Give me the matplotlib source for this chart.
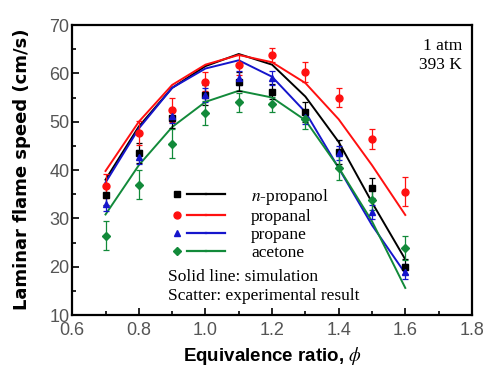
import numpy as np
import matplotlib.pyplot as plt
from matplotlib.lines import Line2D
from matplotlib.legend_handler import HandlerTuple

plt.rcParams['mathtext.fontset'] = 'stix'

# equivalence ratio
phi = [0.7, 0.8, 0.9, 1.0, 1.1, 1.2, 1.3, 1.4, 1.5, 1.6]

# experimental (scatter)
exp_npropanol = [34.8, 43.5, 50.7, 55.5, 58.3, 56.2, 52.0, 43.8, 36.3, 20.0]
exp_propanal = [36.7, 47.6, 52.5, 58.3, 61.7, 63.8, 60.3, 55.0, 46.4, 35.5]
exp_propane = [33.0, 42.7, 51.2, 55.5, 59.0, 59.0, 51.0, 43.5, 31.3, 19.0]
exp_acetone = [26.4, 37.0, 45.4, 51.8, 54.0, 53.6, 50.5, 40.5, 33.8, 23.8]

err_npropanol = [2.0, 2.0, 2.0, 2.0, 2.0, 1.5, 2.0, 2.5, 2.0, 1.5]
err_propanal = [2.5, 2.5, 2.5, 2.0, 2.0, 1.5, 2.0, 2.0, 2.0, 3.0]
err_propane = [1.5, 1.5, 1.5, 1.5, 1.5, 1.5, 1.5, 1.5, 1.5, 1.5]
err_acetone = [3.0, 3.0, 3.0, 2.5, 2.0, 1.5, 2.0, 2.5, 2.0, 2.5]

# simulation (lines)
sim_npropanol = [38.0, 49.0, 57.0, 61.5, 64.0, 61.8, 55.2, 45.8, 33.3, 21.5]
sim_propanal = [39.8, 50.0, 57.6, 61.8, 63.8, 62.3, 58.0, 50.5, 41.0, 30.7]
sim_propane = [37.4, 48.6, 57.0, 61.0, 62.7, 59.3, 52.0, 40.4, 28.6, 18.6]
sim_acetone = [30.8, 41.0, 48.9, 54.1, 56.4, 55.0, 50.3, 40.5, 29.4, 15.6]

labels = ['$\\it{n}$-propanol', 'propanal', 'propane', 'acetone']
colors = ['black', '#ff1010', '#1515cc', '#128a3a']
markers = ['s', 'o', '^', 'D']

exp_data = [exp_npropanol, exp_propanal, exp_propane, exp_acetone]
err_data = [err_npropanol, err_propanal, err_propane, err_acetone]
sim_data = [sim_npropanol, sim_propanal, sim_propane, sim_acetone]

fig = plt.figure(figsize=(4.88, 3.68), dpi=100)
ax = fig.add_axes([0.148, 0.144, 0.819, 0.788])

handles = []
for i in range(4):
    ax.plot(phi, sim_data[i], color=colors[i], lw=1.4, zorder=2)
for i in range(4):
    ms = 5 if markers[i] != 'D' else 4.2
    ax.errorbar(phi, exp_data[i], yerr=err_data[i], fmt=markers[i], color=colors[i],
                ms=ms, capsize=2.5, elinewidth=0.9, capthick=0.9, zorder=3)
    m = Line2D([], [], marker=markers[i], color=colors[i], ls='none', ms=ms)
    l = Line2D([], [], color=colors[i], lw=1.6)
    handles.append((m, l, l))

serif = 'Liberation Serif'
sans = 'Liberation Sans'
ax.legend(handles, labels, handler_map={tuple: HandlerTuple(ndivide=None, pad=0)},
          loc='upper left', bbox_to_anchor=(0.2, 0.497), frameon=False,
          handlelength=3.3, handletextpad=1.5, labelspacing=0.12,
          prop={'family': serif, 'size': 12.5})
ax.text(0.24, 0.13, 'Solid line: simulation', transform=ax.transAxes,
        family=serif, fontsize=12.5, va='center')
ax.text(0.24, 0.065, 'Scatter: experimental result', transform=ax.transAxes,
        family=serif, fontsize=12.5, va='center')
ax.text(0.975, 0.895, '1 atm\n393 K', transform=ax.transAxes, ha='right', va='center',
        family=serif, fontsize=12.5, linespacing=1.3)

ax.set_xlim(0.6, 1.8)
ax.set_ylim(10, 70)
ax.set_xticks([0.6, 0.8, 1.0, 1.2, 1.4, 1.6, 1.8])
ax.set_xticks(np.arange(0.7, 1.8, 0.2), minor=True)
ax.set_yticks(range(10, 71, 10))
ax.set_yticks(range(15, 70, 10), minor=True)
ax.set_xticklabels(['0.6', '0.8', '1.0', '1.2', '1.4', '1.6', '1.8'])
ax.tick_params(which='both', direction='in', width=1.2, labelsize=13, labelcolor='#555555', pad=2)
ax.tick_params(axis='x', which='major', pad=5)
ax.tick_params(which='major', length=5)
ax.tick_params(which='minor', length=3)
for lab in ax.get_xticklabels() + ax.get_yticklabels():
    lab.set_family(sans)
for s in ax.spines.values():
    s.set_linewidth(1.6)
ax.set_xlabel('Equivalence ratio, $\\phi$', fontsize=13.5, fontweight='bold', family=sans, labelpad=4)
ax.set_ylabel('Laminar flame speed (cm/s)', fontsize=13, fontweight='bold', family='DejaVu Sans')
ax.yaxis.set_label_coords(-0.102, 0.503)

fig.savefig('out.png', dpi=100)
